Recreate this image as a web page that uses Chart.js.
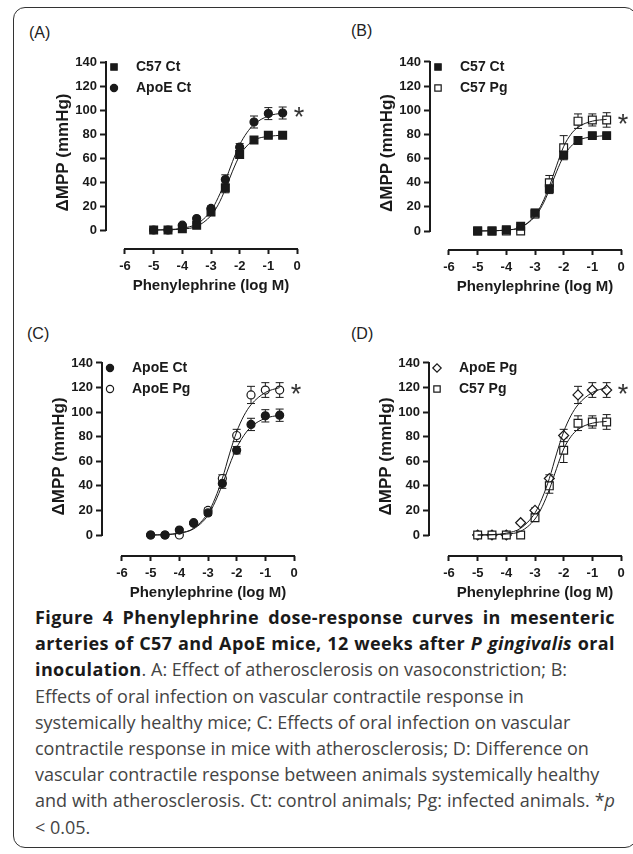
<!DOCTYPE html>
<html>
<head>
<meta charset="utf-8">
<script src="https://cdn.jsdelivr.net/npm/chart.js@4.4.1/dist/chart.umd.min.js"></script>
<style>
  body { margin: 0; background: #fff; width: 633px; height: 854px; overflow: hidden; position: relative;
         font-family: 'Liberation Sans', Arial, sans-serif; }
  #frame { position: absolute; left: 13px; top: 7px; width: 624px; height: 841px;
           border: 1.5px solid #333; border-radius: 12px; box-sizing: border-box; }
  canvas { position: absolute; }
  .tag { position: absolute; font-size: 16px; color: #222; line-height: 16px; }
  #caption { position: absolute; left: 35px; top: 604px; width: 580px; font-family: 'Open Sans', sans-serif;
             font-size: 18px; line-height: 26.2px; color: #444; }
  #caption b { color: #1a1a1a; letter-spacing: 0.4px; }
  #caption div { white-space: nowrap; }
  #caption div.full { text-align: justify; text-align-last: justify; }
</style>
</head>
<body>
<div id="frame"></div>
<div class="tag" style="left:29px; top:25px;">(A)</div>
<div class="tag" style="left:351px; top:23px;">(B)</div>
<div class="tag" style="left:27px; top:326px;">(C)</div>
<div class="tag" style="left:351px; top:326px;">(D)</div>

<div id="caption">
  <div class="full"><b>Figure 4 Phenylephrine dose-response curves in mesenteric</b></div>
  <div class="full"><b>arteries of C57 and ApoE mice, 12 weeks after <i>P gingivalis</i> oral</b></div>
  <div><b>inoculation</b>. A: Effect of atherosclerosis on vasoconstriction; B:</div>
  <div>Effects of oral infection on vascular contractile response in</div>
  <div>systemically healthy mice; C: Effects of oral infection on vascular</div>
  <div>contractile response in mice with atherosclerosis; D: Difference on</div>
  <div>vascular contractile response between animals systemically healthy</div>
  <div class="full">and with atherosclerosis. Ct: control animals; Pg: infected animals. *<i>p</i></div>
  <div>&lt; 0.05.</div>
</div>

<script>
// doses (log M) and mean responses (mmHg) with SEM
const doses = [-5, -4.5, -4, -3.5, -3, -2.5, -2, -1.5, -1, -0.5];
const c57Ct     = [0, 0, 1, 4, 15, 35, 63, 75, 79, 79];
const c57CtErr  = [0.5, 0.5, 1, 1.5, 3, 4, 3, 2.5, 1.5, 1.5];
const apoeCt    = [0, 0, 4, 9.5, 18, 42, 69, 90, 97, 97.5];
const apoeCtErr = [0.5, 0.5, 1, 1, 2, 4, 3, 5, 5, 5];
const c57Pg     = [0, 0, 0, 0, 14, 40, 69, 91, 92, 92];
const c57PgErr  = [0.5, 0.5, 0.5, 0.5, 3, 6, 10, 6, 5, 6];
const apoePg    = [0, 0, 0, 10, 20, 46, 81, 114, 118, 118];
const apoePgErr = [0.5, 0.5, 0.5, 1, 2, 3, 5, 7, 6, 6];

// fitted curves
const fitDoses  = [-5, -4.5, -4, -3.5, -3, -2.75, -2.5, -2.25, -2, -1.75, -1.5, -1, -0.5];
const c57CtFit  = [0, 0.2, 0.8, 3, 12, 21, 34, 49, 62, 70, 75, 78, 79];
const apoeCtFit = [0, 0.3, 1.5, 5, 16, 27, 41, 57, 71, 81, 88, 95, 97.5];
const c57PgFit  = [0, 0.2, 0.8, 3, 13, 23, 37, 54, 70, 80, 86, 91, 92.5];
const apoePgFit = [0, 0.3, 1.5, 5.5, 18, 30, 46, 66, 84, 97, 106, 116, 120];

const yTickValues = [0, 20, 40, 60, 80, 100, 120, 140];
const xTickValues = [-6, -5, -4, -3, -2, -1, 0];

const ink = '#1a1a1a';
const FONT = "'Liberation Sans', Arial, sans-serif";
const markerRadius = { rect: 5.5, circle: 4, rectRot: 5 };
const legendRadius = { rect: 4.5, circle: 3.6, rectRot: 4.2 };

const panels = [
  { geo: { axisX: 106, sixX: 125, zeroX: 297, topY: 62, zeroY: 230, axisY: 249 },
    series: [
      { label: 'C57 Ct', values: c57Ct, errors: c57CtErr, fit: c57CtFit, style: 'rect', filled: true, order: 2 },
      { label: 'ApoE Ct', values: apoeCt, errors: apoeCtErr, fit: apoeCtFit, style: 'circle', filled: true, order: 1 }
    ], star: apoeCt },
  { geo: { axisX: 430, sixX: 449, zeroX: 621, topY: 62, zeroY: 231, axisY: 250 },
    series: [
      { label: 'C57 Ct', values: c57Ct, errors: c57CtErr, fit: c57CtFit, style: 'rect', filled: true, order: 1 },
      { label: 'C57 Pg', values: c57Pg, errors: c57PgErr, fit: c57PgFit, style: 'rect', filled: false, order: 2 }
    ], star: c57Pg },
  { geo: { axisX: 102, sixX: 122, zeroX: 294, topY: 363, zeroY: 535, axisY: 556 },
    series: [
      { label: 'ApoE Ct', values: apoeCt, errors: apoeCtErr, fit: apoeCtFit, style: 'circle', filled: true, order: 1 },
      { label: 'ApoE Pg', values: apoePg, errors: apoePgErr, fit: apoePgFit, style: 'circle', filled: false, order: 2 }
    ], star: apoePg },
  { geo: { axisX: 429, sixX: 449, zeroX: 621, topY: 363, zeroY: 535, axisY: 556 },
    series: [
      { label: 'ApoE Pg', values: apoePg, errors: apoePgErr, fit: apoePgFit, style: 'rectRot', filled: false, order: 2 },
      { label: 'C57 Pg', values: c57Pg, errors: c57PgErr, fit: c57PgFit, style: 'rect', filled: false, order: 1 }
    ], star: apoePg }
];

// error bars under the markers
const errorBars = {
  id: 'errorBars',
  beforeDatasetsDraw(chart) {
    const { ctx, scales: { x, y } } = chart;
    ctx.save();
    ctx.strokeStyle = ink;
    ctx.lineWidth = 1;
    chart.data.datasets.forEach(ds => {
      if (!ds.errors) return;
      ds.data.forEach((pt, i) => {
        const e = ds.errors[i];
        const px = x.getPixelForValue(pt.x);
        const hi = y.getPixelForValue(pt.y + e);
        const lo = y.getPixelForValue(pt.y - e);
        ctx.beginPath();
        ctx.moveTo(px, hi); ctx.lineTo(px, lo);
        ctx.moveTo(px - 4, hi); ctx.lineTo(px + 4, hi);
        ctx.moveTo(px - 4, lo); ctx.lineTo(px + 4, lo);
        ctx.stroke();
      });
    });
    ctx.restore();
  }
};

// detached axis lines, x title, legend and asterisk
const prismLook = {
  id: 'prismLook',
  afterDraw(chart, args, opts) {
    const { ctx, chartArea, scales: { x, y } } = chart;
    ctx.save();
    ctx.strokeStyle = ink;
    ctx.lineWidth = 2;
    ctx.beginPath();
    ctx.moveTo(chartArea.left, y.getPixelForValue(yTickValues[0]) + 1);
    ctx.lineTo(chartArea.left, y.getPixelForValue(yTickValues[yTickValues.length - 1]) - 1);
    ctx.moveTo(x.getPixelForValue(xTickValues[0]) - 1, chartArea.bottom);
    ctx.lineTo(x.getPixelForValue(xTickValues[xTickValues.length - 1]) + 1, chartArea.bottom);
    ctx.stroke();

    ctx.fillStyle = ink;
    ctx.font = 'bold 15px ' + FONT;
    ctx.textAlign = 'center';
    ctx.textBaseline = 'middle';
    const midX = (x.getPixelForValue(xTickValues[0]) + x.getPixelForValue(xTickValues[xTickValues.length - 1])) / 2;
    ctx.fillText('Phenylephrine (log M)', midX, chartArea.bottom + 37);

    // legend
    const topPx = y.getPixelForValue(yTickValues[yTickValues.length - 1]);
    let row = 0;
    chart.data.datasets.forEach(ds => {
      if (!ds.label) return;
      const cy = topPx + 5 + row * 21;
      ctx.fillStyle = ds.pointBackgroundColor;
      ctx.strokeStyle = ink;
      ctx.lineWidth = 1.2;
      Chart.helpers.drawPoint(ctx, { pointStyle: ds.pointStyle, radius: legendRadius[ds.pointStyle], borderWidth: 1.2 },
        chartArea.left + 8, cy);
      ctx.fillStyle = ink;
      ctx.font = 'bold 14px ' + FONT;
      ctx.textAlign = 'left';
      ctx.fillText(ds.label, chartArea.left + 30, cy);
      row++;
    });

    // significance mark
    const starVals = opts.values;
    ctx.fillStyle = '#333';
    ctx.font = '27px ' + FONT;
    ctx.textAlign = 'center';
    ctx.textBaseline = 'alphabetic';
    ctx.fillText('*', x.getPixelForValue(0) + 2, y.getPixelForValue(starVals[starVals.length - 1]) + 13);
    ctx.restore();
  }
};

function buildPanel(p) {
  const g = p.geo;
  const ppu = (g.zeroY - g.topY) / 140;
  const ppx = (g.zeroX - g.sixX) / 6;
  const yMin = -(g.axisY - g.zeroY) / ppu;
  const xMin = -(g.zeroX - g.axisX) / ppx;
  const chartTop = g.topY - 5 * ppu;
  const left = g.axisX - 56;
  const top = Math.floor(chartTop - 16);

  const canvas = document.createElement('canvas');
  canvas.width = g.zeroX + 19 - left;
  canvas.height = g.axisY + 51 - top;
  canvas.style.left = left + 'px';
  canvas.style.top = top + 'px';
  document.body.appendChild(canvas);

  const markerSets = p.series.map(s => ({
    label: s.label,
    data: doses.map((d, i) => ({ x: d, y: s.values[i] })),
    errors: s.errors,
    showLine: false,
    order: s.order,
    pointStyle: s.style,
    pointRadius: markerRadius[s.style],
    pointHoverRadius: markerRadius[s.style],
    pointBackgroundColor: s.filled ? ink : '#fff',
    pointBorderColor: ink,
    pointBorderWidth: 1.2,
    backgroundColor: s.filled ? ink : '#fff',
    borderColor: ink
  }));
  const fitSets = p.series.map(s => ({
    label: '',
    data: fitDoses.map((d, i) => ({ x: d, y: s.fit[i] })),
    showLine: true,
    order: 0,
    pointRadius: 0,
    borderColor: ink,
    borderWidth: 1,
    cubicInterpolationMode: 'monotone',
    fill: false
  }));

  new Chart(canvas, {
    type: 'scatter',
    data: { datasets: [...markerSets, ...fitSets] },
    options: {
      responsive: false,
      animation: false,
      events: [],
      layout: { padding: { left: 0, top: chartTop - top, right: 19, bottom: 0 } },
      plugins: {
        legend: { display: false },
        tooltip: { enabled: false },
        prismLook: { values: p.star }
      },
      scales: {
        x: {
          type: 'linear', position: 'bottom', min: xMin, max: 0,
          afterBuildTicks: sc => { sc.ticks = xTickValues.map(v => ({ value: v })); },
          afterFit: sc => { sc.height = 51; },
          border: { display: false },
          grid: { drawOnChartArea: false, drawTicks: true, tickLength: 5, tickWidth: 2, tickColor: ink },
          ticks: { color: ink, padding: 5, font: { family: FONT, size: 13, weight: 'bold' }, maxRotation: 0 }
        },
        y: {
          type: 'linear', position: 'left', min: yMin, max: 145,
          afterBuildTicks: sc => { sc.ticks = yTickValues.map(v => ({ value: v })); },
          afterFit: sc => { sc.width = 56; },
          border: { display: false },
          grid: { drawOnChartArea: false, drawTicks: true, tickLength: 6, tickWidth: 2, tickColor: ink },
          ticks: { color: ink, padding: 3, font: { family: FONT, size: 13, weight: 'bold' } },
          title: { display: true, text: 'ΔMPP (mmHg)', color: ink, padding: { top: 3, bottom: 0 },
                   font: { family: FONT, size: 17, weight: 'bold' } }
        }
      }
    },
    plugins: [errorBars, prismLook]
  });
}

panels.forEach(buildPanel);
</script>
</body>
</html>
